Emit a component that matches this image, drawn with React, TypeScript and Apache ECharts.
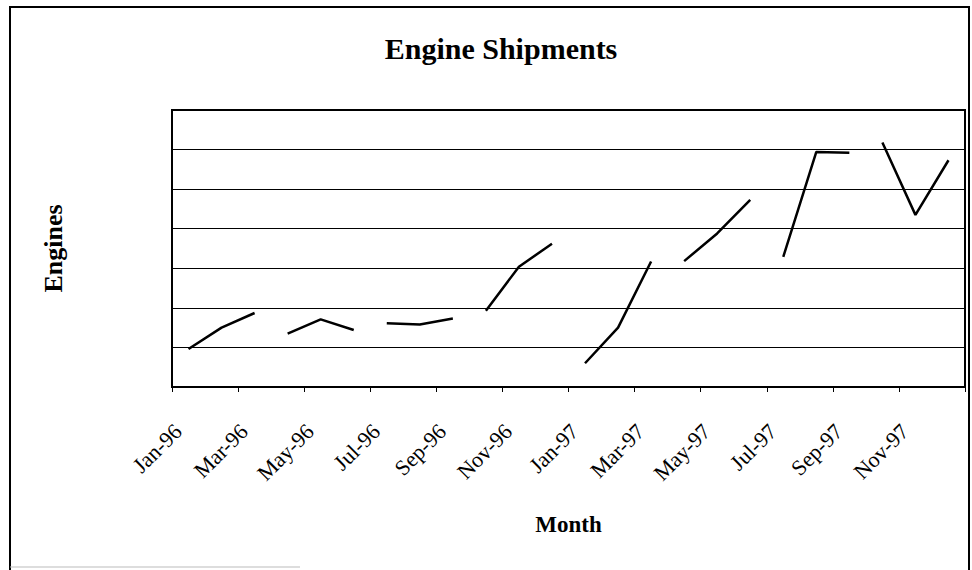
import React, { useEffect, useRef } from "react";
import * as echarts from "echarts";

const months = [
  "Jan-96", "Feb-96", "Mar-96", "Apr-96", "May-96", "Jun-96",
  "Jul-96", "Aug-96", "Sep-96", "Oct-96", "Nov-96", "Dec-96",
  "Jan-97", "Feb-97", "Mar-97", "Apr-97", "May-97", "Jun-97",
  "Jul-97", "Aug-97", "Sep-97", "Oct-97", "Nov-97", "Dec-97",
];

const engines = [
  96, 150, 187, 135, 171, 144, 161, 158, 173, 193, 304, 362,
  60, 150, 317, 318, 388, 473, 329, 594, 592, 618, 435, 573,
];

// each quarter drawn as its own unconnected segment
const quarters = [0, 1, 2, 3, 4, 5, 6, 7];

const FONT = "'Liberation Serif', 'Times New Roman', serif";

export default function App() {
  const ref = useRef<HTMLDivElement>(null);

  useEffect(() => {
    if (!ref.current) return;
    const chart = echarts.init(ref.current, null, { renderer: "svg" });

    const series = quarters.map((q) => ({
      type: "line",
      name: "Q" + (q + 1),
      data: engines.map((v, i) => (Math.floor(i / 3) === q ? v : null)),
      connectNulls: false,
      showSymbol: false,
      symbol: "none",
      lineStyle: { color: "#000", width: 2.5 },
      itemStyle: { color: "#000" },
    }));

    chart.setOption({
      animation: false,
      backgroundColor: "#fff",
      grid: {
        left: 172,
        top: 110,
        right: 7,
        bottom: 183,
        show: true,
        borderColor: "#000",
        borderWidth: 2,
        backgroundColor: "transparent",
      },
      xAxis: {
        type: "category",
        data: months,
        boundaryGap: true,
        name: "Month",
        nameLocation: "middle",
        nameGap: 126,
        nameTextStyle: {
          fontFamily: FONT,
          fontWeight: "bold",
          fontSize: 23,
          color: "#000",
        },
        axisLine: { show: true, lineStyle: { color: "#000", width: 2 } },
        axisTick: {
          show: true,
          interval: 1,
          length: 5,
          inside: false,
          lineStyle: { color: "#000", width: 1 },
        },
        axisLabel: {
          interval: 1,
          rotate: 45,
          margin: 30,
          padding: [0, 15, 0, 0],
          fontFamily: FONT,
          fontSize: 22,
          color: "#000",
        },
        splitLine: { show: false },
      },
      yAxis: {
        type: "value",
        min: 0,
        max: 700,
        interval: 100,
        name: "Engines",
        nameLocation: "middle",
        nameGap: 106,
        nameRotate: 90,
        nameTextStyle: {
          fontFamily: FONT,
          fontWeight: "bold",
          fontSize: 26,
          color: "#000",
        },
        axisLine: { show: false },
        axisTick: { show: false },
        axisLabel: { show: false },
        splitLine: { show: true, lineStyle: { color: "#000", width: 1 } },
      },
      graphic: [
        {
          type: "text",
          x: 501,
          y: 48,
          style: {
            text: "Engine Shipments",
            font: "bold 30px " + FONT,
            fill: "#000",
            align: "center",
            verticalAlign: "middle",
          },
        },
        {
          type: "polyline",
          shape: {
            points: [
              [10, 570],
              [10, 7],
              [969, 7],
              [969, 570],
            ],
          },
          style: { stroke: "#000", lineWidth: 2, fill: "none" },
          silent: true,
        },
        {
          type: "line",
          shape: { x1: 10, y1: 567, x2: 300, y2: 567 },
          style: { stroke: "#bbb", lineWidth: 1 },
          silent: true,
        },
      ],
      series,
    });

    return () => chart.dispose();
  }, []);

  return (
    <div
      ref={ref}
      style={{ position: "absolute", left: 0, top: 0, width: 972, height: 570 }}
    />
  );
}
